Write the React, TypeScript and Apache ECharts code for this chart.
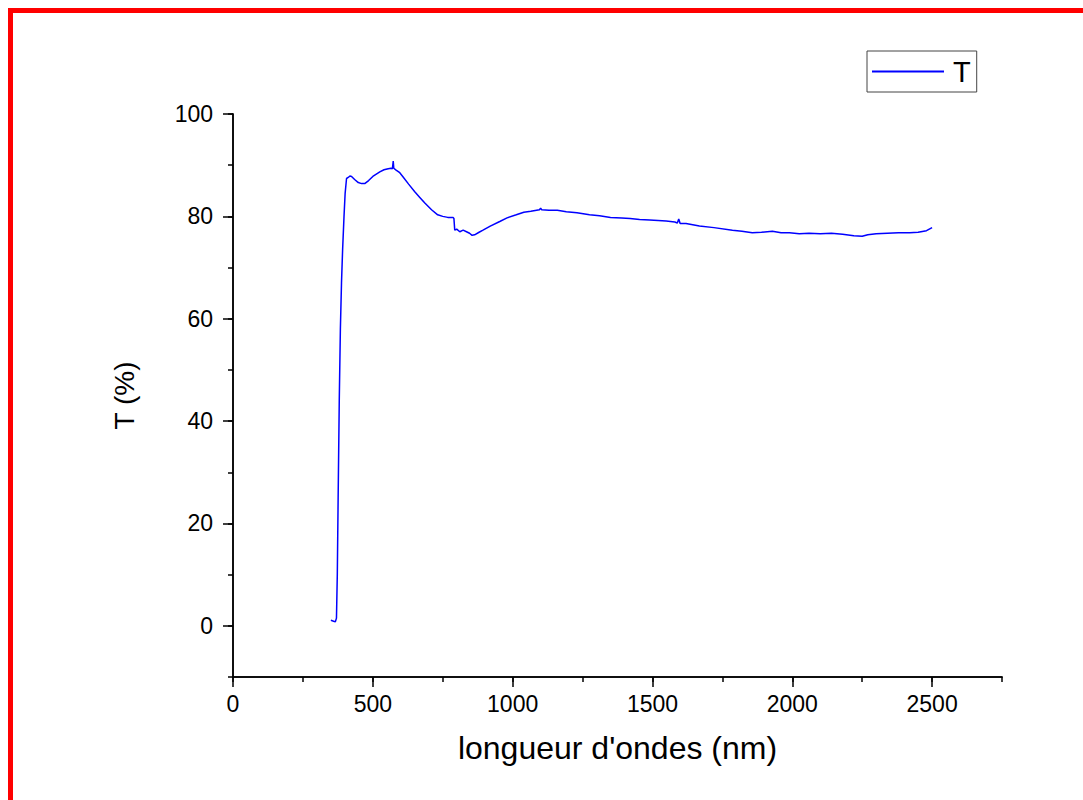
import React, { useEffect, useRef } from "react";
import * as echarts from "echarts";

const wavelengths = [350, 360, 366, 370, 373, 376, 380, 384, 388, 392, 397, 401, 406, 412, 418, 424, 435, 448, 460, 471, 485, 500, 525, 540, 555, 565, 570, 573, 575, 582, 595, 607, 628, 650, 668, 686, 710, 732, 750, 768, 787, 790, 793, 800, 811, 823, 835, 846, 855, 864, 880, 894, 920, 954, 980, 1013, 1040, 1065, 1096, 1100, 1104, 1130, 1160, 1192, 1230, 1275, 1311, 1350, 1390, 1420, 1454, 1490, 1520, 1549, 1580, 1589, 1594, 1599, 1620, 1668, 1720, 1786, 1820, 1857, 1890, 1929, 1960, 1990, 2025, 2060, 2100, 2140, 2180, 2220, 2250, 2270, 2300, 2340, 2380, 2420, 2450, 2480, 2500];
const transmittance = [1.1, 0.9, 0.8, 1.5, 10, 25, 44, 58, 67, 73.5, 80, 84.5, 87.4, 87.6, 87.9, 87.8, 87.2, 86.6, 86.4, 86.4, 87.0, 87.8, 88.7, 89.1, 89.3, 89.4, 89.3, 90.8, 89.4, 89.1, 88.6, 87.8, 86.3, 84.8, 83.7, 82.6, 81.3, 80.3, 80.0, 79.8, 79.8, 79.6, 77.3, 77.5, 77.0, 77.3, 77.0, 76.7, 76.3, 76.4, 76.9, 77.3, 78.1, 79.0, 79.7, 80.3, 80.8, 81.0, 81.3, 81.6, 81.3, 81.2, 81.2, 80.9, 80.7, 80.3, 80.1, 79.8, 79.7, 79.6, 79.4, 79.3, 79.2, 79.1, 78.9, 78.7, 79.5, 78.6, 78.6, 78.1, 77.8, 77.3, 77.1, 76.8, 76.9, 77.1, 76.8, 76.8, 76.6, 76.7, 76.6, 76.7, 76.5, 76.2, 76.1, 76.4, 76.6, 76.7, 76.8, 76.8, 76.9, 77.2, 77.8];

const xMajorTicks = [0, 500, 1000, 1500, 2000, 2500];
const yMajorTicks = [0, 20, 40, 60, 80, 100];

const seriesName = "T";
const xTitle = "longueur d'ondes (nm)";
const yTitle = "T (%)";

export default function App() {
  const ref = useRef<HTMLDivElement>(null);
  useEffect(() => {
    if (!ref.current) return;
    const chart = echarts.init(ref.current, null, { renderer: "svg" });
    const font = "Liberation Sans, Arial, sans-serif";
    const data = wavelengths.map((w, i) => [w, transmittance[i]]);
    const axisLine = { show: true, onZero: false, lineStyle: { color: "#000", width: 1.5 } };
    const fmt = (v: number) => String(v);
    chart.setOption({
      animation: false,
      backgroundColor: "#fff",
      grid: { left: 233, top: 114, right: 81, bottom: 123 },
      legend: {
        left: 867,
        top: 51,
        icon: "rect",
        itemWidth: 72,
        itemHeight: 2,
        itemGap: 10,
        padding: [6, 6, 6, 5],
        borderColor: "#444",
        borderWidth: 1,
        borderRadius: 0,
        textStyle: { fontFamily: font, fontSize: 29, color: "#000", padding: [0, 0, 0, 4] },
        data: [seriesName],
      },
      xAxis: [
        {
          type: "value",
          min: 0,
          max: 2750,
          interval: 250,
          axisLine,
          axisTick: { show: true, length: 5, lineStyle: { color: "#000", width: 1.5 } },
          axisLabel: { show: false },
          splitLine: { show: false },
        },
        {
          type: "value",
          position: "bottom",
          min: 0,
          max: 2750,
          axisLine,
          axisTick: { show: true, length: 10, customValues: xMajorTicks, lineStyle: { color: "#000", width: 1.5 } },
          axisLabel: { show: true, customValues: xMajorTicks, formatter: fmt, fontFamily: font, fontSize: 23, color: "#000", margin: 15 },
          splitLine: { show: false },
          name: xTitle,
          nameLocation: "middle",
          nameGap: 55,
          nameTextStyle: { fontFamily: font, fontSize: 32, color: "#000" },
        },
      ],
      yAxis: [
        {
          type: "value",
          min: -10,
          max: 100,
          interval: 10,
          axisLine,
          axisTick: { show: true, length: 5, lineStyle: { color: "#000", width: 1.5 } },
          axisLabel: { show: false },
          splitLine: { show: false },
        },
        {
          type: "value",
          position: "left",
          min: -10,
          max: 100,
          axisLine,
          axisTick: { show: true, length: 10, customValues: yMajorTicks, lineStyle: { color: "#000", width: 1.5 } },
          axisLabel: { show: true, customValues: yMajorTicks, formatter: fmt, fontFamily: font, fontSize: 23, color: "#000", margin: 20 },
          splitLine: { show: false },
          name: yTitle,
          nameLocation: "middle",
          nameGap: 95,
          nameRotate: 90,
          nameTextStyle: { fontFamily: font, fontSize: 28, color: "#000" },
        },
      ],
      series: [
        {
          name: seriesName,
          type: "line",
          xAxisIndex: 1,
          yAxisIndex: 1,
          data,
          showSymbol: false,
          symbol: "none",
          smooth: false,
          lineStyle: { color: "#0000ff", width: 1.5 },
          itemStyle: { color: "#0000ff" },
        },
      ],
      graphic: [
        { type: "rect", shape: { x: 8, y: 8, width: 1075, height: 5 }, style: { fill: "#ff0000" } },
        { type: "rect", shape: { x: 8, y: 8, width: 5, height: 792 }, style: { fill: "#ff0000" } },
      ],
    });
    return () => chart.dispose();
  }, []);
  return (
    <div
      ref={ref}
      style={{ position: "absolute", left: 0, top: 0, width: 1083, height: 800 }}
    />
  );
}
